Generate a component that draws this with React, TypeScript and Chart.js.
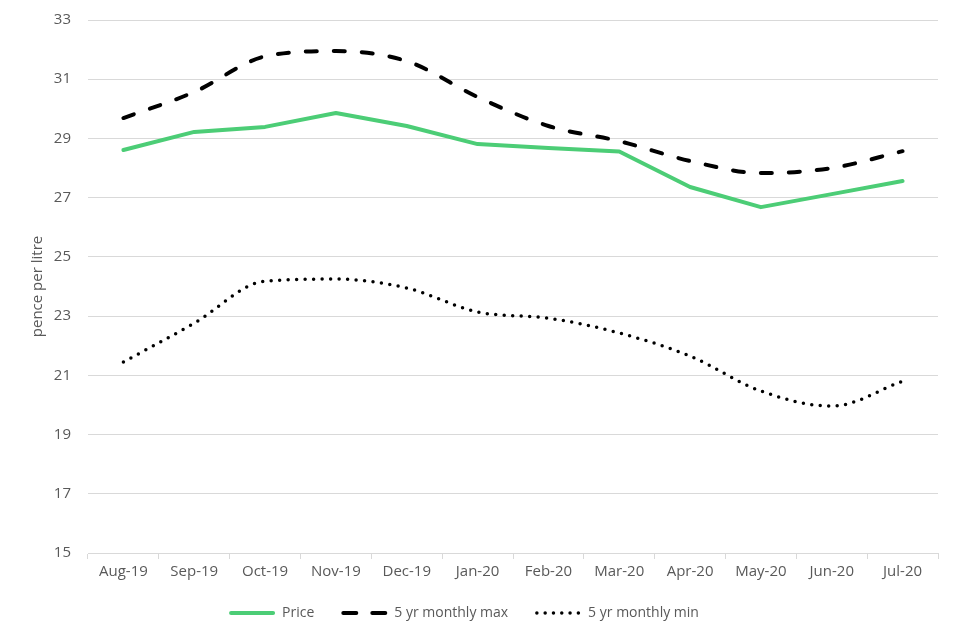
import React, { useEffect, useRef } from "react";
import { Chart, registerables } from "chart.js";

Chart.register(...registerables);

const categories = ["Aug-19", "Sep-19", "Oct-19", "Nov-19", "Dec-19", "Jan-20", "Feb-20", "Mar-20", "Apr-20", "May-20", "Jun-20", "Jul-20"];
const price = [28.61, 29.22, 29.39, 29.86, 29.42, 28.81, 28.68, 28.56, 27.36, 26.68, 27.12, 27.56];
const maxSeries = [29.69, 30.57, 31.77, 31.95, 31.61, 30.4, 29.42, 28.91, 28.24, 27.83, 28.0, 28.57];
const minSeries = [21.45, 22.76, 24.18, 24.25, 23.95, 23.14, 22.93, 22.43, 21.65, 20.47, 19.96, 20.8];

const FONT = "'Open Sans', 'Liberation Sans', sans-serif";
const TEXT = "#595959";
const GRID = "#d9d9d9";

const bottomLegend = {
  id: "bottomLegend",
  afterDraw(chart: any) {
    const ctx = chart.ctx as CanvasRenderingContext2D;
    const ds = chart.data.datasets as any[];
    const sampleW = 46;
    const gapText = 7;
    const gapItem = 27;
    ctx.save();
    ctx.font = `14px ${FONT}`;
    const widths = ds.map((d) => ctx.measureText(d.label).width);
    const total = widths.reduce((a, w) => a + sampleW + gapText + w, 0) + gapItem * (ds.length - 1);
    let x = chart.width / 2 - 16 - total / 2;
    const y = 613;
    ds.forEach((d, i) => {
      ctx.beginPath();
      ctx.strokeStyle = d.borderColor;
      ctx.lineWidth = d.borderWidth;
      ctx.lineCap = "round";
      ctx.setLineDash(d.legendDash || []);
      const inset = d.borderWidth / 2;
      ctx.moveTo(x + inset, y);
      ctx.lineTo(x + sampleW - inset, y);
      ctx.stroke();
      ctx.setLineDash([]);
      ctx.fillStyle = TEXT;
      ctx.textBaseline = "middle";
      ctx.textAlign = "left";
      ctx.fillText(d.label, x + sampleW + gapText, y);
      x += sampleW + gapText + widths[i] + gapItem;
    });
    ctx.restore();
  },
};

export default function App() {
  const ref = useRef<HTMLCanvasElement | null>(null);
  useEffect(() => {
    document.body.style.margin = "0";
    const ctx = ref.current!;
    const chart = new Chart(ctx, {
      type: "line",
      data: {
        labels: categories,
        datasets: [
          {
            label: "Price",
            data: price,
            borderColor: "#4ccd76",
            backgroundColor: "#4ccd76",
            borderWidth: 4,
            tension: 0,
            pointRadius: 0,
            borderCapStyle: "round",
            borderJoinStyle: "round",
            legendDash: [],
          },
          {
            label: "5 yr monthly max",
            data: maxSeries,
            borderColor: "#000000",
            backgroundColor: "#000000",
            borderWidth: 4,
            borderDash: [11, 17],
            borderCapStyle: "round",
            tension: 0.4,
            cubicInterpolationMode: "monotone",
            pointRadius: 0,
            legendDash: [13, 16],
          },
          {
            label: "5 yr monthly min",
            data: minSeries,
            borderColor: "#000000",
            backgroundColor: "#000000",
            borderWidth: 3.5,
            borderDash: [0, 8.5],
            borderCapStyle: "round",
            tension: 0.4,
            cubicInterpolationMode: "monotone",
            pointRadius: 0,
            legendDash: [0, 8.3],
          },
        ] as any,
      },
      options: {
        animation: false,
        responsive: false,
        maintainAspectRatio: false,
        layout: { padding: { left: 29, right: 22, top: 20, bottom: 55 } },
        plugins: {
          tooltip: { enabled: false },
          legend: { display: false },
        },
        scales: {
          x: {
            offset: true,
            grid: {
              offset: true,
              drawOnChartArea: false,
              drawTicks: true,
              tickLength: 6,
              color: GRID,
            },
            border: { color: GRID, width: 1 },
            ticks: { color: TEXT, font: { family: FONT, size: 15 }, padding: 4, maxRotation: 0 },
          },
          y: {
            min: 15,
            max: 33,
            grid: { color: GRID, drawTicks: false },
            border: { display: false },
            ticks: { stepSize: 2, color: TEXT, font: { family: FONT, size: 15 }, padding: 17 },
            title: { display: true, text: "pence per litre", color: TEXT, font: { family: FONT, size: 15 }, padding: 0 },
            afterFit: (scale: any) => {
              scale.width = 59;
              scale.paddingTop = 0;
              scale.paddingBottom = 0;
            },
          },
        },
      },
      plugins: [bottomLegend],
    });
    return () => chart.destroy();
  }, []);
  return (
    <div style={{ width: 960, height: 640 }}>
      <canvas ref={ref} width={960} height={640} style={{ width: 960, height: 640, display: "block" }} />
    </div>
  );
}
